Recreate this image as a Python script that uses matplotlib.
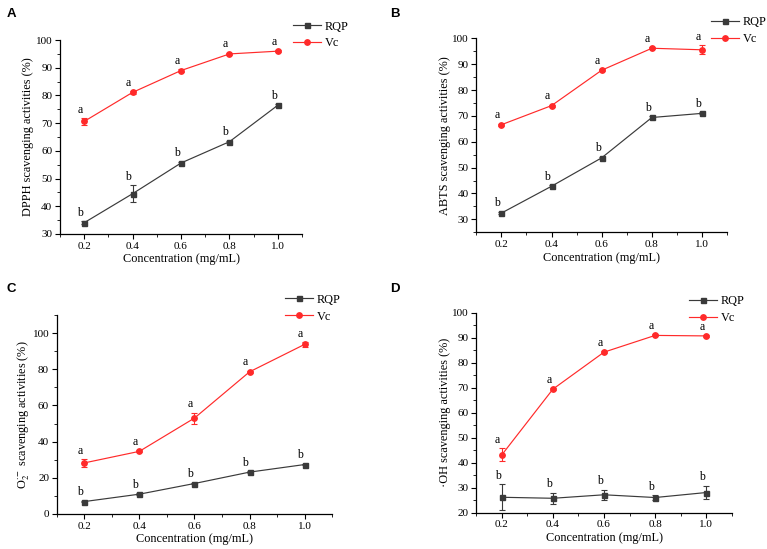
import numpy as np
import matplotlib
matplotlib.use("Agg")
import matplotlib.pyplot as plt
from matplotlib.ticker import MultipleLocator
from matplotlib.lines import Line2D

plt.rcParams['font.family'] = ['Liberation Serif', 'DejaVu Serif']
plt.rcParams['mathtext.fontset'] = 'stix'

conc = [0.2, 0.4, 0.6, 0.8, 1.0]

# A - DPPH
dpph_rqp = [34.0, 44.5, 55.6, 63.3, 76.5]
dpph_rqp_err = [0.5, 3.0, 0.5, 0.4, 0.4]
dpph_vc = [70.6, 81.1, 89.0, 95.0, 96.0]
dpph_vc_err = [1.2, 0.5, 0.4, 0.4, 0.4]

# B - ABTS
abts_rqp = [32.4, 42.8, 53.8, 69.4, 71.0]
abts_rqp_err = [0.5, 0.4, 0.5, 0.4, 0.4]
abts_vc = [66.6, 74.0, 87.7, 96.2, 95.6]
abts_vc_err = [0.4, 0.4, 0.4, 0.4, 1.8]

# C - superoxide
o2_rqp = [6.8, 10.9, 16.8, 23.1, 27.3]
o2_rqp_err = [0.5, 0.5, 0.5, 0.5, 0.5]
o2_vc = [28.2, 34.6, 53.0, 78.6, 93.8]
o2_vc_err = [2.0, 0.6, 3.0, 0.6, 1.2]

# D - hydroxyl
oh_rqp = [26.2, 25.8, 27.2, 26.1, 28.1]
oh_rqp_err = [5.2, 2.2, 2.0, 1.0, 2.7]
oh_vc = [43.2, 69.5, 84.3, 91.0, 90.8]
oh_vc_err = [2.6, 0.4, 0.4, 0.4, 0.4]

panels = [
    ("A", "DPPH scavenging activities (%)", dpph_rqp, dpph_rqp_err, dpph_vc, dpph_vc_err, (30, 100), 10),
    ("B", "ABTS scavenging activities (%)", abts_rqp, abts_rqp_err, abts_vc, abts_vc_err, (25, 100), 10),
    ("C", r"O$_2^{\cdot -}$ scavenging activities (%)", o2_rqp, o2_rqp_err, o2_vc, o2_vc_err, (0, 110), 20),
    ("D", "\u00b7OH scavenging activities (%)", oh_rqp, oh_rqp_err, oh_vc, oh_vc_err, (20, 100), 10),
]

# axes boxes [left, bottom, width, height] in figure fraction
boxes = [
    [0.078, 0.574, 0.316, 0.353],
    [0.621, 0.577, 0.327, 0.353],
    [0.074, 0.064, 0.359, 0.362],
    [0.621, 0.066, 0.333, 0.364],
]
legend_anchor = [(0.963, 1.026), (0.936, 1.04), (0.829, 1.035), (0.832, 1.015)]
letter_pos = [(0.009, 0.985), (0.509, 0.985), (0.009, 0.485), (0.509, 0.485)]

fig = plt.figure(figsize=(7.67, 5.49), dpi=100)

red = '#ff2a2a'
gray = '#3a3a3a'

for (tag, ylab, rqp, rqp_err, vc, vc_err, ylim, ystep), box, la, lp in zip(panels, boxes, legend_anchor, letter_pos):
    ax = fig.add_axes(box)
    ax.errorbar(conc, rqp, yerr=rqp_err, color=gray, marker='s', ms=3.6, lw=0.85,
                capsize=2, elinewidth=0.8, capthick=0.8)
    ax.errorbar(conc, vc, yerr=vc_err, color=red, marker='o', ms=3.9, lw=0.85,
                capsize=2, elinewidth=0.8, capthick=0.8)
    for x, y, e in zip(conc, vc, vc_err):
        ax.annotate('a', (x, y + e), xytext=(-3, 6), textcoords='offset points',
                    ha='center', va='center', fontsize=8.5)
    for x, y, e in zip(conc, rqp, rqp_err):
        ax.annotate('b', (x, y + e), xytext=(-3, 6), textcoords='offset points',
                    ha='center', va='center', fontsize=8.5)
    ax.set_xlim(0.1, 1.1)
    ax.set_ylim(*ylim)
    ax.set_xticks(conc)
    ax.set_xticklabels(['0.2', '0.4', '0.6', '0.8', '1.0'])
    ax.xaxis.set_minor_locator(MultipleLocator(0.1))
    ax.yaxis.set_major_locator(MultipleLocator(ystep))
    ax.yaxis.set_minor_locator(MultipleLocator(ystep / 2))
    for s in ['top', 'right']:
        ax.spines[s].set_visible(False)
    for s in ['left', 'bottom']:
        ax.spines[s].set_linewidth(0.9)
    ax.tick_params(which='major', direction='out', length=3.5, width=0.8, labelsize=8, pad=2)
    ax.tick_params(which='minor', direction='out', length=2, width=0.6)
    ax.set_xlabel('Concentration (mg/mL)', fontsize=8.8, labelpad=2)
    ax.set_ylabel(ylab, fontsize=8.8, labelpad=1)
    handles = [Line2D([], [], color=gray, marker='s', ms=3.6, lw=0.85),
               Line2D([], [], color=red, marker='o', ms=3.9, lw=0.85)]
    ax.legend(handles, ['RQP', 'Vc'], loc='center left', bbox_to_anchor=la, frameon=False,
              fontsize=8.8, handlelength=2.3, handletextpad=0.3, labelspacing=0.4,
              borderaxespad=0, borderpad=0)
    fig.text(lp[0], lp[1], tag, fontsize=9.5, fontweight='bold', family='Liberation Sans',
             ha='left', va='top')

fig.savefig('out.png', dpi=100)
